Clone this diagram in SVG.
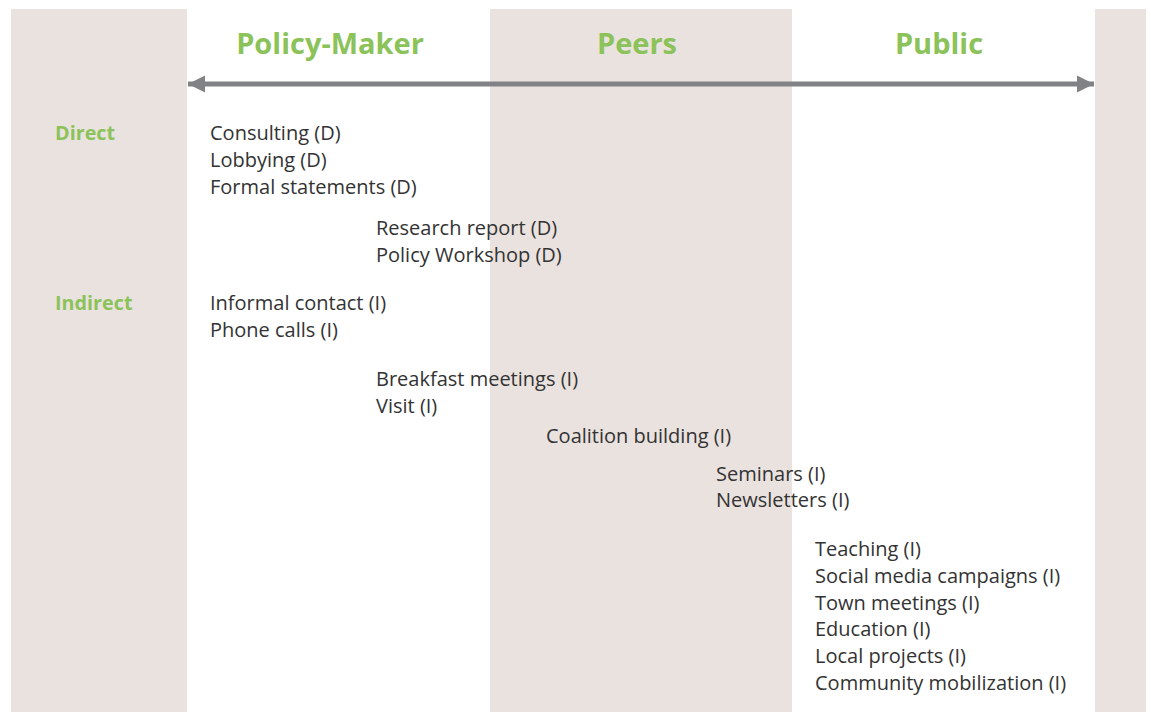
<svg xmlns="http://www.w3.org/2000/svg" width="1151" height="712" viewBox="0 0 1151 712">
<style>
.band{fill:#EAE2DF}
.hd{font-family:"Open Sans","Liberation Sans",sans-serif;font-weight:700;font-size:29px;fill:#8BC35A;text-anchor:middle}
.lb{font-family:"Open Sans","Liberation Sans",sans-serif;font-weight:700;font-size:19.8px;fill:#8BC35A}
.t{font-family:"Open Sans","Liberation Sans",sans-serif;font-size:20px;fill:#333333}
</style>
<defs>
<marker id="ah" viewBox="0 0 10 10" refX="10" refY="5" markerWidth="3.4" markerHeight="3.6" orient="auto-start-reverse" markerUnits="strokeWidth">
<path d="M0,0 L10,5 L0,10 Z" fill="#808285"/>
</marker>
</defs>
<rect width="1151" height="712" fill="#FFFFFF"/>
<g id="bands">
<rect class="band" x="11" y="9" width="176" height="703"/>
<rect class="band" x="490" y="9" width="302" height="703"/>
<rect class="band" x="1095" y="9" width="51" height="703"/>
</g>
<g id="headers">
<text class="hd" x="330" y="54">Policy-Maker</text>
<text class="hd" x="637" y="54">Peers</text>
<text class="hd" x="939" y="54">Public</text>
</g>
<g id="connectors">
<line x1="188" y1="84" x2="1094" y2="84" stroke="#808285" stroke-width="5" marker-start="url(#ah)" marker-end="url(#ah)"/>
</g>
<g id="row-labels">
<text class="lb" x="55" y="140">Direct</text>
<text class="lb" x="55" y="310">Indirect</text>
</g>
<g id="direct-pm">
<text class="t" x="210" y="140">Consulting (D)</text>
<text class="t" x="210" y="167">Lobbying (D)</text>
<text class="t" x="210" y="194">Formal statements (D)</text>
</g>
<g id="direct-mid">
<text class="t" x="376" y="235">Research report (D)</text>
<text class="t" x="376" y="262">Policy Workshop (D)</text>
</g>
<g id="indirect-pm">
<text class="t" x="210" y="310">Informal contact (I)</text>
<text class="t" x="210" y="337">Phone calls (I)</text>
</g>
<g id="indirect-mid">
<text class="t" x="376" y="386">Breakfast meetings (I)</text>
<text class="t" x="376" y="413">Visit (I)</text>
</g>
<g id="coalition">
<text class="t" x="546" y="443">Coalition building (I)</text>
</g>
<g id="peers-public">
<text class="t" x="716" y="481">Seminars (I)</text>
<text class="t" x="716" y="507">Newsletters (I)</text>
</g>
<g id="public">
<text class="t" x="815" y="556">Teaching (I)</text>
<text class="t" x="815" y="583">Social media campaigns (I)</text>
<text class="t" x="815" y="610">Town meetings (I)</text>
<text class="t" x="815" y="636">Education (I)</text>
<text class="t" x="815" y="663">Local projects (I)</text>
<text class="t" x="815" y="690">Community mobilization (I)</text>
</g>
</svg>
